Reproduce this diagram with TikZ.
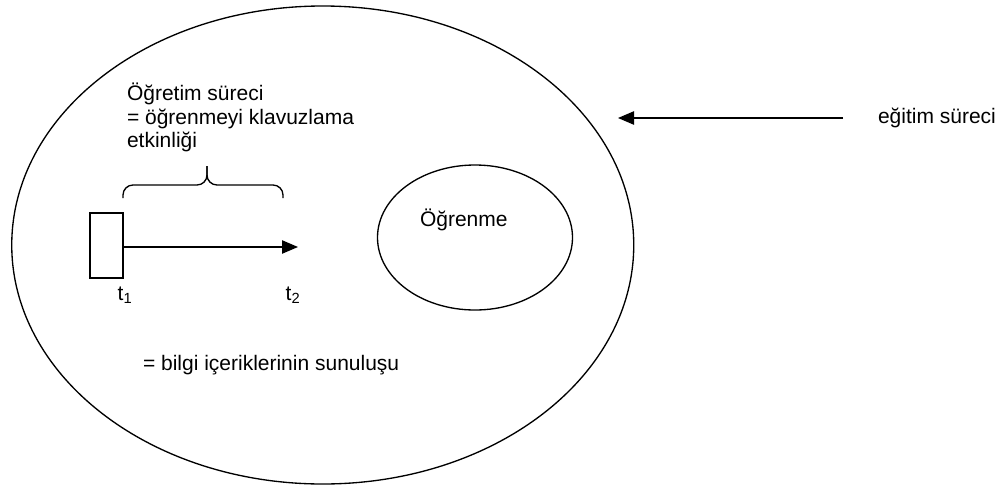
\documentclass[tikz,border=0pt]{standalone}
\usepackage{fontspec}
\setmainfont{Liberation Sans}
\usetikzlibrary{shapes.geometric,arrows.meta}
\begin{document}
\begin{tikzpicture}[x=0.75pt,y=-0.75pt,
  lbl/.style={anchor=base west, inner sep=0pt, outer sep=0pt, font=\fontsize{15.75}{18}\selectfont},
  stroke/.style={line width=1pt, black},
  tip/.style={-{Triangle[length=12pt,width=10pt]}},
]
\useasboundingbox (0,0) rectangle (1004,486);

% education process (outer) and learning (inner)
\node[draw, stroke, ellipse, minimum width=466.5pt, minimum height=358.5pt, inner sep=0pt] (outer) at (322.75,245) {};
\node[draw, stroke, ellipse, minimum width=146.25pt, minimum height=108.75pt, inner sep=0pt] (inner) at (475,237.5) {};
\node[lbl] (learn) at (420,226.7) {Öğrenme};

% teaching process description
\node[lbl] (teachA) at (127,100) {Öğretim süreci};
\node[lbl] (teachB) at (127,124.5) {= öğrenmeyi klavuzlama};
\node[lbl] (teachC) at (127,147.5) {etkinliği};

% brace over the time span
\coordinate (bl) at (123,198);
\coordinate (br) at (283,198);
\coordinate (btip) at (207,166);
\draw[stroke, rounded corners=7.5pt] (bl) -- (123,185) -- (btip |- 0,185) -- (btip);
\draw[stroke, rounded corners=7.5pt] (br) -- (283,185) -- (btip |- 0,185) -- (btip);

% time line t1 -> t2
\node[draw, stroke, fill=white, minimum width=24.75pt, minimum height=48.75pt, inner sep=0pt] (box) at (106.5,245.5) {};
\coordinate (tend) at (298,247);
\draw[stroke, tip] (box.east |- tend) -- (tend);
\node[lbl] (t1) at (117.7,300) {t\textsubscript{1}};
\node[lbl] (t2) at (285.7,300) {t\textsubscript{2}};

\node[lbl] (content) at (143,370.5) {= bilgi içeriklerinin sunuluşu};

% pointer to the outer ellipse
\node[lbl] (edu) at (878,123.3) {eğitim süreci};
\coordinate (src) at (843,118);
\coordinate (dst) at (618,118);
\draw[stroke, tip] (src) -- (dst);
\end{tikzpicture}
\end{document}
